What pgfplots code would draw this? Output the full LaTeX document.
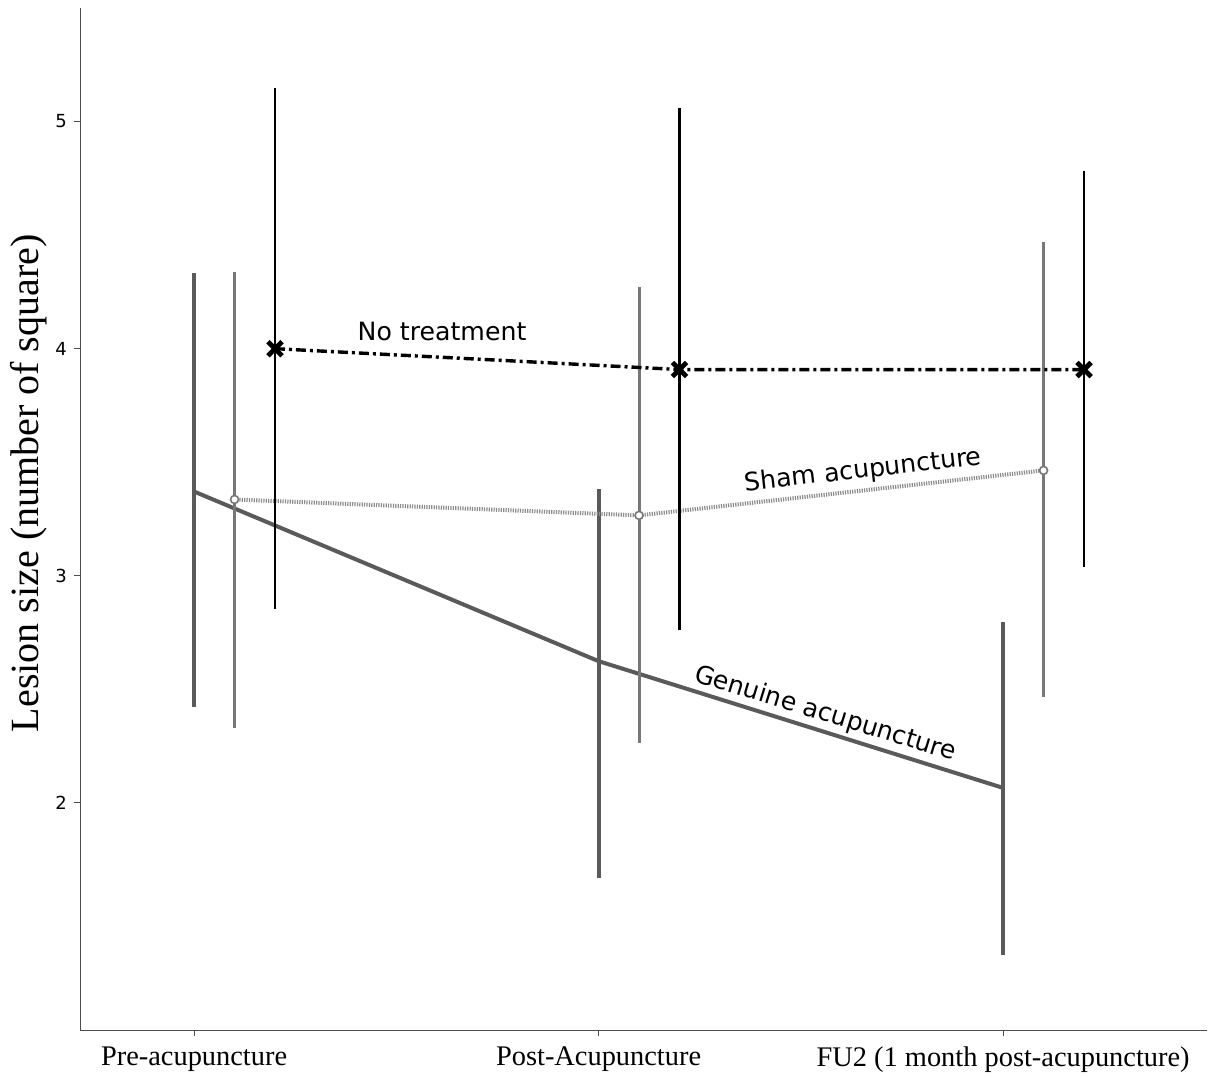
\documentclass[border=0pt]{standalone}
\usepackage{fontspec}
\setmainfont{Liberation Serif}
\newfontfamily\sansf{DejaVu Sans}
\usepackage{pgfplots}
\pgfplotsset{compat=1.18}
\definecolor{gen}{HTML}{5A5A5A}
\definecolor{shambar}{HTML}{777777}
\definecolor{shamline}{HTML}{8C8C8C}
\begin{document}
\begin{tikzpicture}
\useasboundingbox (-40pt,-23.5pt) rectangle (567pt,515pt);
\begin{axis}[
  scale only axis, width=563.5pt, height=511pt,
  xmin=-0.282, xmax=2.504, ymin=1, ymax=5.5,
  axis lines*=left,
  axis line style={draw=black!70, line width=0.5pt},
  xtick={0,1,2},
  xticklabels={Pre-acupuncture, Post-Acupuncture, FU2 (1 month post-acupuncture)},
  ytick={2,3,4,5},
  tick style={draw=black!70, line width=0.5pt},
  major tick length=3pt, tick align=outside,
  /pgf/number format/assume math mode=true,
  yticklabel style={font=\sansf\fontsize{9}{10}\selectfont},
  xticklabel style={font=\fontsize{14.2}{16}\selectfont, yshift=-2pt},
  ylabel={Lesion size (number of square)},
  every axis y label/.style={at={(axis description cs:-0.0457,0.535)}, rotate=90, anchor=center, font=\fontsize{20}{22}\selectfont},
  clip=false,
]
% Genuine acupuncture
\addplot[color=gen, line width=2pt, mark=none,
  error bars/.cd, y dir=both, y explicit, error mark=none,
  error bar style={color=gen, line width=2pt}]
  table[x=x, y=y, y error plus=ep, y error minus=em] {
x y ep em
0 3.371 0.963 0.949
1 2.624 0.756 0.954
2 2.066 0.730 0.734
};
% Sham acupuncture error bars
\addplot[draw=none, mark=none,
  error bars/.cd, y dir=both, y explicit, error mark=none,
  error bar style={color=shambar, line width=1.5pt}]
  table[x=x, y=y, y error plus=ep, y error minus=em] {
x y ep em
0.1 3.336 1.002 1.006
1.1 3.266 1.007 1.002
2.1 3.464 1.006 0.998
};
% Sham line with markers
\addplot[color=shamline, line width=2pt, dash pattern=on 0.6pt off 0.6pt,
  mark=*, mark size=2pt, mark options={solid, fill=white, draw=shambar, line width=0.8pt}]
  table[x=x, y=y] {
x y
0.1 3.336
1.1 3.266
2.1 3.464
};
% No treatment error bars
\addplot[draw=none, mark=none,
  error bars/.cd, y dir=both, y explicit, error mark=none,
  error bar style={color=black, line width=1.4pt}]
  table[x=x, y=y, y error plus=ep, y error minus=em] {
x y ep em
0.2 4.000 1.147 1.147
1.2 3.908 1.151 1.148
2.2 3.908 0.874 0.871
};
\addplot[color=black, line width=1.7pt, dash pattern=on 5pt off 2pt on 1.5pt off 2pt,
  mark=x, mark size=5pt, mark options={solid, line width=2.4pt}]
  table[x=x, y=y] {
x y
0.2 4.000
1.2 3.908
2.2 3.908
};
\node[font=\sansf\fontsize{12.6}{14}\selectfont] at (axis cs:0.613,4.075) {No treatment};
\node[font=\sansf\fontsize{12.6}{14}\selectfont, rotate=6.5] at (axis cs:1.654,3.462) {Sham acupuncture};
\node[font=\sansf\fontsize{12.6}{14}\selectfont, rotate=-17] at (axis cs:1.56,2.391) {Genuine acupuncture};
\end{axis}
\end{tikzpicture}
\end{document}
